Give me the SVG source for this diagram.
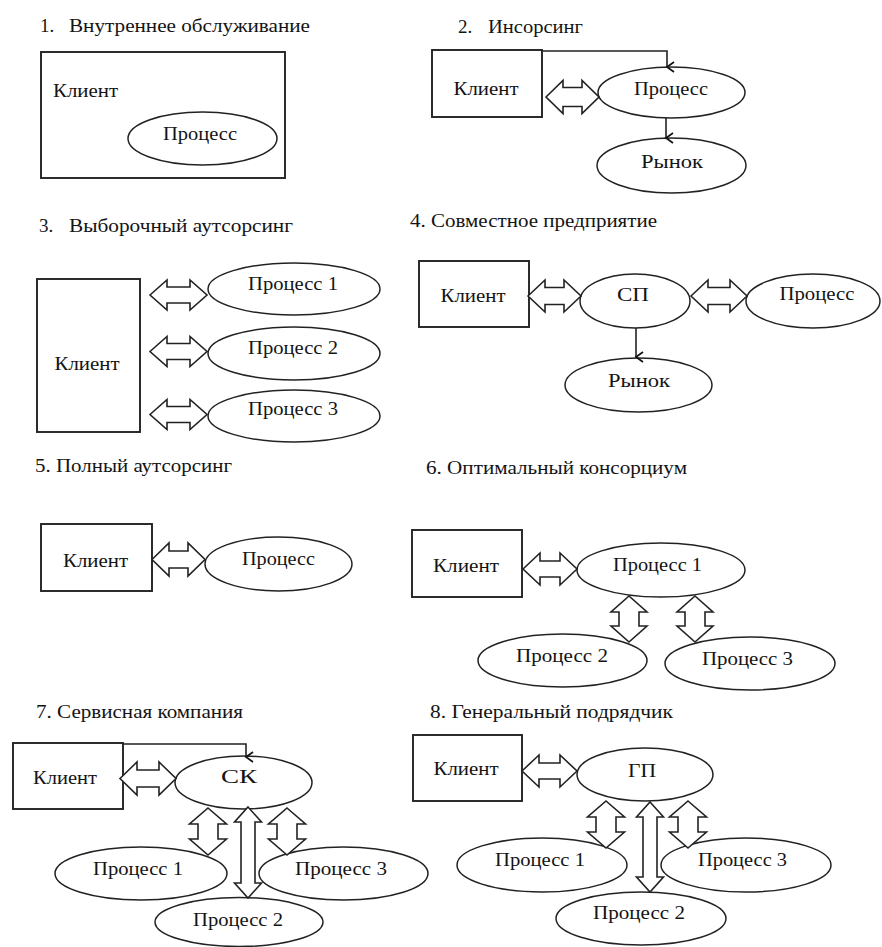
<svg xmlns="http://www.w3.org/2000/svg" width="882" height="947" viewBox="0 0 882 947" font-family="'Liberation Serif', 'DejaVu Serif', serif">
<defs>
<marker id="ah" markerWidth="14" markerHeight="14" refX="7" refY="11" orient="auto" markerUnits="userSpaceOnUse" viewBox="0 0 14 14">
<path d="M2,4 L7,11 L12,4" fill="none" stroke="#111" stroke-width="1.7"/>
</marker>
</defs>
<style>
.t{font-size:19px;fill:#141414}
.l{font-size:19px;text-anchor:middle;fill:#141414}
.box{fill:#fff;stroke:#222;stroke-width:1.9}
.ell{fill:#fff;stroke:#222;stroke-width:1.5}
.ba{fill:#fff;stroke:#222;stroke-width:1.6;stroke-linejoin:miter}
.ln{fill:none;stroke:#222;stroke-width:1.6}
</style>
<rect width="882" height="947" fill="#fff"/>
<g id="titles">
<text class="t" x="40" y="32">1.</text><text class="t" x="69" y="32" textLength="241" lengthAdjust="spacingAndGlyphs">Внутреннее обслуживание</text>
<text class="t" x="458" y="33">2.</text><text class="t" x="488" y="33" textLength="95" lengthAdjust="spacingAndGlyphs">Инсорсинг</text>
<text class="t" x="39" y="232">3.</text><text class="t" x="69" y="232" textLength="224" lengthAdjust="spacingAndGlyphs">Выборочный аутсорсинг</text>
<text class="t" x="410" y="227" textLength="247" lengthAdjust="spacingAndGlyphs">4. Совместное предприятие</text>
<text class="t" x="35" y="472" textLength="197" lengthAdjust="spacingAndGlyphs">5. Полный аутсорсинг</text>
<text class="t" x="426" y="474" textLength="261" lengthAdjust="spacingAndGlyphs">6. Оптимальный консорциум</text>
<text class="t" x="36" y="718" textLength="207" lengthAdjust="spacingAndGlyphs">7. Сервисная компания</text>
<text class="t" x="430" y="718" textLength="243" lengthAdjust="spacingAndGlyphs">8. Генеральный подрядчик</text>
</g>
<g id="d1-client"><rect class="box" x="41" y="52" width="244" height="126"/><text class="l" x="85.5" y="97" textLength="65" lengthAdjust="spacingAndGlyphs">Клиент</text></g>
<g id="d1-process"><ellipse class="ell" cx="202.5" cy="138.5" rx="74.5" ry="26.5"/><text class="l" x="200" y="140" textLength="74" lengthAdjust="spacingAndGlyphs">Процесс</text></g>
<g id="d2-client"><rect class="box" x="432" y="50" width="110" height="67"/><text class="l" x="486" y="95" textLength="65" lengthAdjust="spacingAndGlyphs">Клиент</text></g>
<g id="d2-process"><ellipse class="ell" cx="671.5" cy="92.5" rx="73.5" ry="25.5"/><text class="l" x="671" y="95" textLength="74" lengthAdjust="spacingAndGlyphs">Процесс</text></g>
<g id="d2-market"><ellipse class="ell" cx="671.5" cy="165.5" rx="74.5" ry="27.5"/><text class="l" x="672" y="168" textLength="62" lengthAdjust="spacingAndGlyphs">Рынок</text></g>
<g id="d3-client"><rect class="box" x="37" y="279" width="103" height="153"/><text class="l" x="87" y="370" textLength="65" lengthAdjust="spacingAndGlyphs">Клиент</text></g>
<g id="d3-p1"><ellipse class="ell" cx="294" cy="289" rx="86" ry="26"/><text class="l" x="293" y="290" textLength="90" lengthAdjust="spacingAndGlyphs">Процесс 1</text></g>
<g id="d3-p2"><ellipse class="ell" cx="294" cy="353.5" rx="86" ry="26.5"/><text class="l" x="293" y="354" textLength="90" lengthAdjust="spacingAndGlyphs">Процесс 2</text></g>
<g id="d3-p3"><ellipse class="ell" cx="294" cy="416" rx="86" ry="26"/><text class="l" x="293" y="415" textLength="90" lengthAdjust="spacingAndGlyphs">Процесс 3</text></g>
<g id="d4-client"><rect class="box" x="419" y="261" width="110" height="66"/><text class="l" x="473" y="302" textLength="65" lengthAdjust="spacingAndGlyphs">Клиент</text></g>
<g id="d4-jv"><ellipse class="ell" cx="635" cy="301" rx="55" ry="27"/><text class="l" x="633" y="301" textLength="32" lengthAdjust="spacingAndGlyphs">СП</text></g>
<g id="d4-process"><ellipse class="ell" cx="813" cy="301" rx="67" ry="27"/><text class="l" x="817" y="300" textLength="75" lengthAdjust="spacingAndGlyphs">Процесс</text></g>
<g id="d4-market"><ellipse class="ell" cx="638.5" cy="385" rx="73.5" ry="27"/><text class="l" x="639" y="387" textLength="62" lengthAdjust="spacingAndGlyphs">Рынок</text></g>
<g id="d5-client"><rect class="box" x="41" y="524" width="111" height="67"/><text class="l" x="95.5" y="567" textLength="65" lengthAdjust="spacingAndGlyphs">Клиент</text></g>
<g id="d5-process"><ellipse class="ell" cx="278.5" cy="564" rx="73.5" ry="27"/><text class="l" x="278.5" y="565" textLength="73" lengthAdjust="spacingAndGlyphs">Процесс</text></g>
<g id="d6-client"><rect class="box" x="412" y="530" width="110" height="67"/><text class="l" x="466" y="572" textLength="66" lengthAdjust="spacingAndGlyphs">Клиент</text></g>
<g id="d6-p1"><ellipse class="ell" cx="661" cy="570" rx="84" ry="27"/><text class="l" x="657.5" y="571" textLength="89" lengthAdjust="spacingAndGlyphs">Процесс 1</text></g>
<g id="d6-p2"><ellipse class="ell" cx="562.5" cy="660.5" rx="84.5" ry="26.5"/><text class="l" x="562" y="662" textLength="92" lengthAdjust="spacingAndGlyphs">Процесс 2</text></g>
<g id="d6-p3"><ellipse class="ell" cx="750" cy="663.5" rx="85" ry="26.5"/><text class="l" x="747.5" y="665" textLength="91" lengthAdjust="spacingAndGlyphs">Процесс 3</text></g>
<g id="d7-client"><rect class="box" x="13" y="743" width="110" height="66"/><text class="l" x="65" y="784" textLength="64" lengthAdjust="spacingAndGlyphs">Клиент</text></g>
<g id="d7-sc"><ellipse class="ell" cx="243.5" cy="782.5" rx="68.5" ry="26.5"/><text class="l" x="239" y="783" textLength="36" lengthAdjust="spacingAndGlyphs">СК</text></g>
<g id="d7-p1"><ellipse class="ell" cx="141" cy="873.5" rx="86" ry="26.5"/><text class="l" x="138" y="875" textLength="90" lengthAdjust="spacingAndGlyphs">Процесс 1</text></g>
<g id="d7-p3"><ellipse class="ell" cx="343.5" cy="873.5" rx="84.5" ry="26.5"/><text class="l" x="341" y="875" textLength="92" lengthAdjust="spacingAndGlyphs">Процесс 3</text></g>
<g id="d7-p2"><ellipse class="ell" cx="239" cy="922" rx="84" ry="24.5"/><text class="l" x="238" y="926" textLength="90" lengthAdjust="spacingAndGlyphs">Процесс 2</text></g>
<g id="d8-client"><rect class="box" x="413" y="735" width="109" height="66"/><text class="l" x="466" y="775" textLength="65" lengthAdjust="spacingAndGlyphs">Клиент</text></g>
<g id="d8-gc"><ellipse class="ell" cx="645" cy="774.5" rx="68" ry="26.5"/><text class="l" x="642" y="777" textLength="28" lengthAdjust="spacingAndGlyphs">ГП</text></g>
<g id="d8-p1"><ellipse class="ell" cx="542" cy="865" rx="85" ry="27"/><text class="l" x="540" y="866" textLength="90" lengthAdjust="spacingAndGlyphs">Процесс 1</text></g>
<g id="d8-p3"><ellipse class="ell" cx="746" cy="865" rx="85" ry="27"/><text class="l" x="742.5" y="866" textLength="89" lengthAdjust="spacingAndGlyphs">Процесс 3</text></g>
<g id="d8-p2"><ellipse class="ell" cx="641" cy="918.5" rx="85" ry="26.5"/><text class="l" x="639" y="919" textLength="92" lengthAdjust="spacingAndGlyphs">Процесс 2</text></g>
<g id="connectors">
<path class="ln" d="M542,51 H667 V67" marker-end="url(#ah)"/>
<path class="ln" d="M666,118 V138" marker-end="url(#ah)"/>
<path class="ln" d="M636,328 V357" marker-end="url(#ah)"/>
<path class="ln" d="M123,744 H246 V757" marker-end="url(#ah)"/>
<path class="ba" d="M546,97 L563,80.5 L563,87.5 L582,87.5 L582,80.5 L599,97 L582,113.5 L582,106.5 L563,106.5 L563,113.5 Z"/>
<path class="ba" d="M150,295 L167,280 L167,287 L190,287 L190,280 L207,295 L190,310 L190,303 L167,303 L167,310 Z"/>
<path class="ba" d="M150,351.5 L167,336.5 L167,343.5 L190,343.5 L190,336.5 L207,351.5 L190,366.5 L190,359.5 L167,359.5 L167,366.5 Z"/>
<path class="ba" d="M150,414.5 L167,399.5 L167,406.5 L190,406.5 L190,399.5 L207,414.5 L190,429.5 L190,422.5 L167,422.5 L167,429.5 Z"/>
<path class="ba" d="M528,296 L545,280 L545,287.5 L564,287.5 L564,280 L581,296 L564,312 L564,304.5 L545,304.5 L545,312 Z"/>
<path class="ba" d="M691,296 L708,280 L708,287.5 L730,287.5 L730,280 L747,296 L730,312 L730,304.5 L708,304.5 L708,312 Z"/>
<path class="ba" d="M152,559.5 L169,543 L169,551 L188,551 L188,543 L205,559.5 L188,576 L188,568 L169,568 L169,576 Z"/>
<path class="ba" d="M523,569 L540,553 L540,561 L560,561 L560,553 L577,569 L560,585 L560,577 L540,577 L540,585 Z"/>
<path class="ba" d="M120,778.5 L137,762 L137,770 L159,770 L159,762 L176,778.5 L159,795 L159,787 L137,787 L137,795 Z"/>
<path class="ba" d="M522,771 L539,755 L539,763 L560,763 L560,755 L577,771 L560,787 L560,779 L539,779 L539,787 Z"/>
<path class="ba" d="M629,596 L647,612 L639,612 L639,626 L647,626 L629,642 L611,626 L619,626 L619,612 L611,612 Z"/>
<path class="ba" d="M695,596 L713,612 L705,612 L705,626 L713,626 L695,642 L677,626 L685,626 L685,612 L677,612 Z"/>
<path class="ba" d="M208,808 L226.5,824 L218,824 L218,839 L226.5,839 L208,855 L189.5,839 L198,839 L198,824 L189.5,824 Z"/>
<path class="ba" d="M287,808 L305.5,824 L297,824 L297,839 L305.5,839 L287,855 L268.5,839 L277,839 L277,824 L268.5,824 Z"/>
<path class="ba" d="M248,807 L261.5,822 L255,822 L255,883 L261.5,883 L248,898 L234.5,883 L241,883 L241,822 L234.5,822 Z"/>
<path class="ba" d="M606,801 L624.5,817 L616,817 L616,832 L624.5,832 L606,848 L587.5,832 L596,832 L596,817 L587.5,817 Z"/>
<path class="ba" d="M688,801 L706.5,817 L698,817 L698,832 L706.5,832 L688,848 L669.5,832 L678,832 L678,817 L669.5,817 Z"/>
<path class="ba" d="M650,802 L663.5,817 L657,817 L657,877 L663.5,877 L650,892 L636.5,877 L643,877 L643,817 L636.5,817 Z"/>
</g>
</svg>
